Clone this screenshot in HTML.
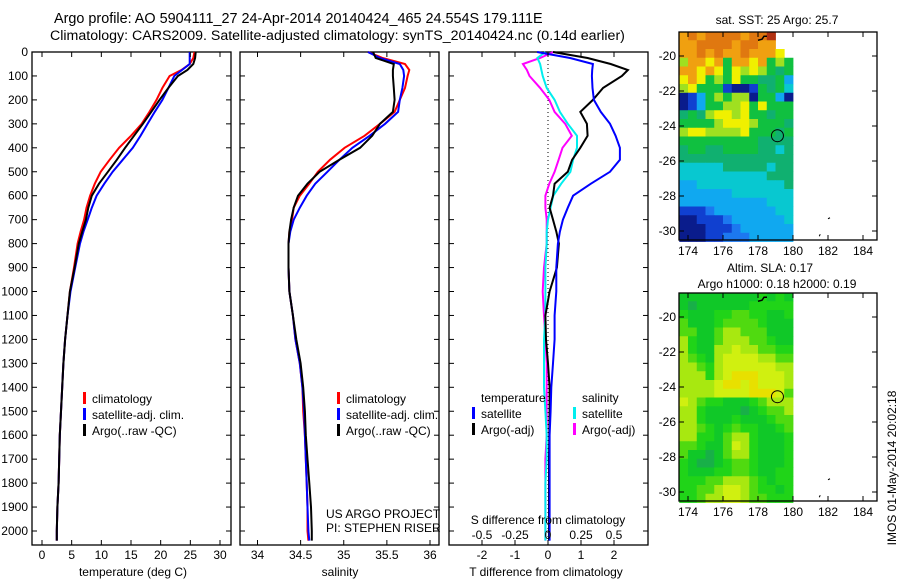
<!DOCTYPE html>
<html><head><meta charset="utf-8"><style>
body{margin:0;background:#fff;}
svg{display:block;font-family:"Liberation Sans",sans-serif;}
</style></head><body>
<svg id="c" width="900" height="580" viewBox="0 0 900 580" xmlns="http://www.w3.org/2000/svg">
<text x="54" y="23" font-size="14.4">Argo profile: AO 5904111_27 24-Apr-2014 20140424_465 24.554S 179.111E</text>
<text x="50" y="40" font-size="14.2">Climatology: CARS2009. Satellite-adjusted climatology: synTS_20140424.nc (0.14d earlier)</text>
<g id="g"></g>
</svg>
<script>
const depths=[0,25,50,75,100,150,200,250,300,350,400,450,500,550,600,650,700,750,800,900,1000,1100,1200,1300,1400,1500,1600,1700,1800,1900,2000,2040];
const tClim=[25.7,25.5,24.9,23.5,21.5,20.3,19.3,18.1,16.8,15.0,13.0,11.4,9.9,8.9,8.1,7.5,7.1,6.5,6.0,5.4,4.7,4.3,3.9,3.6,3.4,3.2,3.0,2.9,2.8,2.6,2.5,2.5];
const tSat=[24.9,24.9,24.9,23.6,22.3,21.3,20.3,19.0,17.8,16.6,15.3,13.6,11.9,10.5,9.2,8.4,7.7,7.0,6.4,5.6,4.8,4.3,3.9,3.6,3.4,3.2,3.0,2.9,2.8,2.6,2.5,2.5];
const tArgo=[25.9,25.8,25.5,24.5,22.9,21.3,19.8,18.4,17.0,15.5,14.0,12.6,11.1,9.6,8.4,7.8,7.4,6.8,6.2,5.5,4.7,4.3,3.9,3.6,3.4,3.2,3.0,2.9,2.8,2.6,2.5,2.5];
const sClim=[35.28,35.45,35.71,35.76,35.74,35.71,35.65,35.59,35.42,35.24,35.01,34.84,34.70,34.60,34.49,34.42,34.40,34.37,34.36,34.36,34.37,34.41,34.44,34.49,34.52,34.53,34.55,34.56,34.57,34.58,34.58,34.59];
const sSat=[35.28,35.42,35.65,35.69,35.70,35.68,35.65,35.63,35.48,35.30,35.10,34.95,34.81,34.67,34.57,34.49,34.42,34.38,34.36,34.36,34.37,34.41,34.44,34.49,34.52,34.54,34.55,34.56,34.57,34.58,34.59,34.60];
const sArgo=[35.34,35.37,35.58,35.57,35.57,35.58,35.59,35.57,35.42,35.33,35.19,34.95,34.72,34.58,34.47,34.42,34.39,34.37,34.36,34.36,34.37,34.41,34.45,34.50,34.53,34.55,34.56,34.58,34.60,34.62,34.63,34.63];
const dTSat=[-0.33,0.67,1.36,1.34,1.33,1.35,1.39,1.6,1.88,2.05,2.18,2.18,1.88,1.3,0.76,0.6,0.45,0.36,0.3,0.25,0.25,0.2,0.2,0.15,0.1,0.08,0.05,0.05,0.05,0.05,0.05,0.05];
const dTArgo=[0.15,1.2,1.9,2.42,2.24,1.67,1.36,0.98,1.18,1.2,0.98,0.73,0.6,0.2,0.15,0.05,0.15,0.25,0.33,0.27,0.05,-0.08,-0.06,0.0,0.05,0.05,0.04,0.03,0.03,0.03,0.03,0.03];
const dSSat=[-0.02,-0.08,-0.06,-0.05,-0.04,-0.01,0.05,0.09,0.15,0.22,0.22,0.19,0.17,0.10,0.04,0.02,0.0,-0.01,-0.01,-0.02,-0.02,-0.02,-0.03,-0.03,-0.03,-0.02,-0.01,-0.01,-0.02,-0.02,-0.02,-0.02];
const dSArgo=[0.04,-0.06,-0.19,-0.16,-0.14,-0.06,0.01,0.05,0.13,0.18,0.11,0.08,0.05,0.01,-0.02,-0.02,-0.01,-0.01,-0.01,-0.03,-0.04,-0.03,-0.02,-0.01,-0.01,-0.01,-0.01,-0.02,-0.02,-0.02,-0.02,-0.02];
const depthTicks=[0,100,200,300,400,500,600,700,800,900,1000,1100,1200,1300,1400,1500,1600,1700,1800,1900,2000];
const tTicks=[0,5,10,15,20,25,30];
const sTicks=[34,34.5,35,35.5,36];
const dTTicks=[-2,-1,0,1,2];
const dSTicks=[-0.5,-0.25,0,0.25,0.5];
const dSTickLabels=["-0.5","-0.25","0","0.25","0.5"];
const sstRows=["9A9AAAA9AAB--","99AAAA9AA99--","99A9A99A9998-","7998969989676","9989868787656","8986768665563","7866610016564","0136767706630","0136677868666","5657887866566","6666788876665","7887777866656","6666666665555","5665566665545","5555555555555","4444455555455","4444444444555","3344444444445","3333334444444","3333333333444","1112333333344","0011123333334","0001112333333","0001122233333"];
const slaRows=["1111111112121","1011111122222","2111223322112","3111233332111","3311344333111","4211344433211","4211445443322","4321455554433","4432455555544","4442456665554","4444566565554","4444555566653","5432211123444","4421111012334","4421112111233","4432123221123","4422134421112","3321135421112","3110134421112","2100123321112","2111223321122","2223344432122","2233455432212","2234455433222"];
const lonTicks=[174,176,178,180,182,184];
const latTicks=[-20,-22,-24,-26,-28,-30];
const argoLon=179.111, argoLat=-24.554;

const sstPal={"0":"#0a1c8c","1":"#1040d0","2":"#1c78f0","3":"#10a8f0","4":"#08c8d0","5":"#10b070","6":"#10c040","7":"#a0e020","8":"#f0f000","9":"#f0a010","A":"#e07810","B":"#b03010"};
const slaPal={"0":"#18b048","1":"#10c828","2":"#20d418","3":"#50da10","4":"#a8e810","5":"#d0f010","6":"#e8e000"};
const G=document.getElementById('g');
const NS="http://www.w3.org/2000/svg";
function mk(tag,at,parent){const e=document.createElementNS(NS,tag);for(const k in at)e.setAttribute(k,at[k]);(parent||G).appendChild(e);return e;}
function txt(x,y,s,anchor,size,parent){const e=mk('text',{x:x,y:y,'font-size':size||12,'text-anchor':anchor||'start'},parent);e.textContent=s;return e;}

const PT=52, PB=545;
const yD=d=>PT+d*0.2395;
function linear(d0,d1,r0,r1){return v=>r0+(v-d0)/(d1-d0)*(r1-r0);}
const xT=linear(0,30,42,220), xS=linear(34,36,257.5,430), xDT=linear(-2,2,482,614), xDS=v=>xDT(v*4);

function panel(name,x0,x1){
  const g=mk('g',{});
  
  
  const r=mk('rect',{x:x0,y:PT,width:x1-x0,height:PB-PT,fill:'none',stroke:'#000','stroke-width':1.3},g);
  
  
  depthTicks.forEach(d=>{mk('line',{x1:x0,x2:x0+5,y1:yD(d),y2:yD(d),stroke:'#000'},g);mk('line',{x1:x1-5,x2:x1,y1:yD(d),y2:yD(d),stroke:'#000'},g);});
  return g;
}
function series(g,name,xs,vals,color,w){
  const p=mk('polyline',{points:vals.map((v,i)=>xs(v).toFixed(1)+','+yD(depths[i]).toFixed(1)).join(' '),fill:'none',stroke:color,'stroke-width':w||2},g);
  
  
}
function xticks(g,ticks,xs,x0,x1,y,labels){
  ticks.forEach((t,i)=>{mk('line',{x1:xs(t),x2:xs(t),y1:PB,y2:PB-5,stroke:'#000'},g);mk('line',{x1:xs(t),x2:xs(t),y1:PT,y2:PT+5,stroke:'#000'},g);
    const l=txt(xs(t),y,labels?labels[i]:String(t),'middle',12,g);
    
    });
}
function legend(g,x,y,items){
  items.forEach((it,i)=>{mk('rect',{x:x,y:y+i*16-11,width:3,height:12,fill:it[1]},g);
    const l=txt(x+9,y+i*16,it[0],'start',12,g);
    
    });
}
const yl=mk('g',{});


depthTicks.forEach(d=>txt(28,yD(d)+4,String(d),'end',12,yl));

let p1=panel('temperature-panel',32,231);
series(p1,'temperature-climatology',xT,tClim,'#f00');
series(p1,'temperature-satellite-adj',xT,tSat,'#00f');
series(p1,'temperature-argo',xT,tArgo,'#000');
xticks(p1,tTicks,xT,32,231,559);
txt(133,576,'temperature (deg C)','middle',12,p1);
legend(p1,83,403,[['climatology','#f00'],['satellite-adj. clim.','#00f'],['Argo(..raw -QC)','#000']]);

let p2=panel('salinity-panel',240,439);
series(p2,'salinity-climatology',xS,sClim,'#f00');
series(p2,'salinity-satellite-adj',xS,sSat,'#00f');
series(p2,'salinity-argo',xS,sArgo,'#000');
xticks(p2,sTicks,xS,240,439,559);
txt(340,576,'salinity','middle',12,p2);
legend(p2,337,403,[['climatology','#f00'],['satellite-adj. clim.','#00f'],['Argo(..raw -QC)','#000']]);
txt(326,518,'US ARGO PROJECT','start',12,p2);
txt(326,532,'PI: STEPHEN RISER','start',12,p2);

let p3=panel('difference-panel',449,648);
mk('line',{x1:548,x2:548,y1:PT,y2:PB,stroke:'#000','stroke-dasharray':'1,3'},p3);
series(p3,'salinity-diff-argo',xDS,dSArgo,'#f0f');
series(p3,'salinity-diff-satellite',xDS,dSSat,'#0ee');
series(p3,'temp-diff-argo',xDT,dTArgo,'#000');
series(p3,'temp-diff-satellite',xDT,dTSat,'#00f');
xticks(p3,dTTicks,xDT,449,648,559);
dSTicks.forEach((t,i)=>{const l=txt(xDS(t),539,dSTickLabels[i],'middle',12,p3);});
txt(548,524,'S difference from climatology','middle',12,p3);
txt(546,576,'T difference from climatology','middle',12,p3);
txt(481,402,'temperature','start',12,p3);
txt(582,402,'salinity','start',12,p3);
legend(p3,472,418,[['satellite','#00f'],['Argo(-adj)','#000']]);
legend(p3,573,418,[['satellite','#0ee'],['Argo(-adj)','#f0f']]);

function map(name,y0,rows,pal){
  const x0=679,x1=877,y1=y0+208;
  const xL=linear(174,184,688,863), yL=linear(-20,-30,y0+24,y0+199);
  const g=mk('g',{});
  
  
  const cw=xL(174.5)-xL(174), ch=yL(-20.5)-yL(-20);
  rows.forEach((r,ri)=>{for(let ci=0;ci<r.length;ci++){const c=r[ci];if(c==='-')continue;
    const cell=mk('rect',{x:(xL(173.5+ci*0.5)).toFixed(2),y:(yL(-18.6-ri*0.5)).toFixed(2),width:(cw+0.4).toFixed(2),height:(ch+0.4).toFixed(2),fill:pal[c]},g);
    
    }});
  mk('rect',{x:x1-2,y:y0,width:30,height:y1-y0,fill:'#fff'},g);
  mk('rect',{x:x0,y:y0,width:x1-x0,height:y1-y0,fill:'none',stroke:'#000','stroke-width':1.3},g);
  lonTicks.forEach(t=>{mk('line',{x1:xL(t),x2:xL(t),y1:y1,y2:y1-5,stroke:'#000'},g);mk('line',{x1:xL(t),x2:xL(t),y1:y0,y2:y0+5,stroke:'#000'},g);
    txt(xL(t),y1+15,String(t),'middle',12,g);});
  latTicks.forEach(t=>{mk('line',{x1:x0,x2:x0+5,y1:yL(t),y2:yL(t),stroke:'#000'},g);mk('line',{x1:x1-5,x2:x1,y1:yL(t),y2:yL(t),stroke:'#000'},g);
    txt(x0-3,yL(t)+4,String(t),'end',12,g);});
  const c=mk('circle',{cx:xL(argoLon),cy:yL(argoLat),r:6,fill:'none',stroke:'#000'},g);
  
  
  mk('path',{d:`M${xL(178)} ${yL(-19.1)} l4 -1 l2 -3 l3 0`,fill:'none',stroke:'#000','stroke-width':1.5},g);
  mk('path',{d:`M${xL(182)} ${yL(-29.3)} l2 -1 M${xL(181.5)} ${yL(-30.3)} l1 -2`,fill:'none',stroke:'#000'},g);
}
map('sst-map',32,sstRows,sstPal);
map('sla-map',293,slaRows,slaPal);
txt(777,24,'sat. SST: 25 Argo: 25.7','middle',12);
txt(770,272,'Altim. SLA: 0.17','middle',12);
txt(777,288,'Argo h1000: 0.18 h2000: 0.19','middle',12);
const im=txt(0,0,'IMOS 01-May-2014 20:02:18','middle',12);
im.setAttribute('transform','translate(896,468) rotate(-90)');


</script>
</body></html>
